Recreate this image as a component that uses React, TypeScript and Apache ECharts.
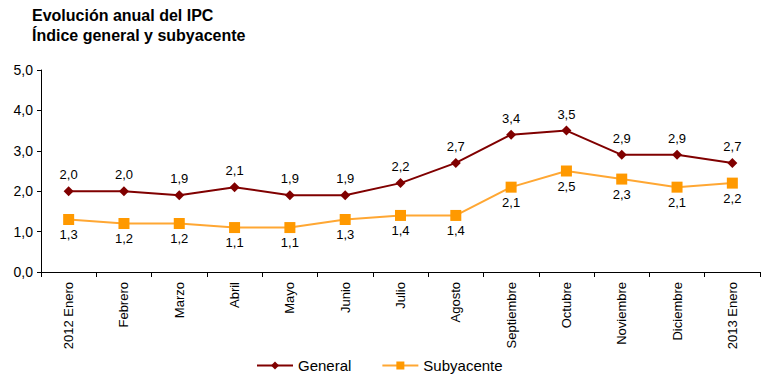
import React, { useEffect, useRef } from "react";
import * as echarts from "echarts";

const categories = ["2012 Enero", "Febrero", "Marzo", "Abril", "Mayo", "Junio", "Julio", "Agosto", "Septiembre", "Octubre", "Noviembre", "Diciembre", "2013 Enero"];
const general = [2.0, 2.0, 1.9, 2.1, 1.9, 1.9, 2.2, 2.7, 3.4, 3.5, 2.9, 2.9, 2.7];
const subyacente = [1.3, 1.2, 1.2, 1.1, 1.1, 1.3, 1.4, 1.4, 2.1, 2.5, 2.3, 2.1, 2.2];
const yTicks = [0, 1, 2, 3, 4, 5];

const fmt = (v: number) => v.toFixed(1).replace(".", ",");
const FONT = "Liberation Sans, Arial, sans-serif";

export default function App() {
  const ref = useRef<HTMLDivElement>(null);
  useEffect(() => {
    const chart = echarts.init(ref.current!, null, { renderer: "svg" });
    chart.setOption({
      animation: false,
      backgroundColor: "#fff",
      textStyle: { fontFamily: FONT },
      title: {
        text: "Evolución anual del IPC\nÍndice general y subyacente",
        left: 27,
        top: 0,
        textStyle: { fontSize: 16, fontWeight: "bold", color: "#000", lineHeight: 20, fontFamily: FONT },
      },
      legend: {
        top: 353,
        left: 251,
        itemWidth: 36,
        itemHeight: 10,
        itemGap: 30,
        textStyle: { fontSize: 15, color: "#000", fontFamily: FONT },
        data: ["General", "Subyacente"],
      },
      grid: { left: 41, right: 2, top: 70, bottom: 104, containLabel: false },
      xAxis: {
        type: "category",
        data: categories,
        boundaryGap: true,
        axisLine: { lineStyle: { color: "#000", width: 1 } },
        axisTick: { show: true, length: 5, lineStyle: { color: "#000" }, alignWithLabel: false },
        axisLabel: { rotate: 90, color: "#000", fontSize: 13, margin: 10, interval: 0, fontFamily: FONT },
      },
      yAxis: {
        type: "value",
        min: yTicks[0],
        max: yTicks[yTicks.length - 1],
        interval: 1,
        axisLine: { show: true, lineStyle: { color: "#000", width: 1 } },
        axisTick: { show: true, length: 4, inside: false, lineStyle: { color: "#000" } },
        splitLine: { show: false },
        axisLabel: { color: "#000", fontSize: 14, margin: 8, formatter: (v: number) => fmt(v), fontFamily: FONT },
      },
      series: [
        {
          name: "General",
          type: "line",
          data: general,
          symbol: "diamond",
          symbolSize: 10,
          itemStyle: { color: "#800000" },
          lineStyle: { color: "#800000", width: 2 },
          label: { show: true, position: "top", distance: 5, color: "#000", fontSize: 13, formatter: (p: any) => fmt(p.value), fontFamily: FONT },
        },
        {
          name: "Subyacente",
          type: "line",
          data: subyacente,
          symbol: "rect",
          symbolSize: 11,
          itemStyle: { color: "#FF9900" },
          lineStyle: { color: "#FFA733", width: 2 },
          label: { show: true, position: "bottom", distance: 3, color: "#000", fontSize: 13, formatter: (p: any) => fmt(p.value), fontFamily: FONT },
        },
      ],
    });
    return () => chart.dispose();
  }, []);
  return <div ref={ref} style={{ position: "absolute", left: 0, top: 0, width: 762, height: 376 }} />;
}
